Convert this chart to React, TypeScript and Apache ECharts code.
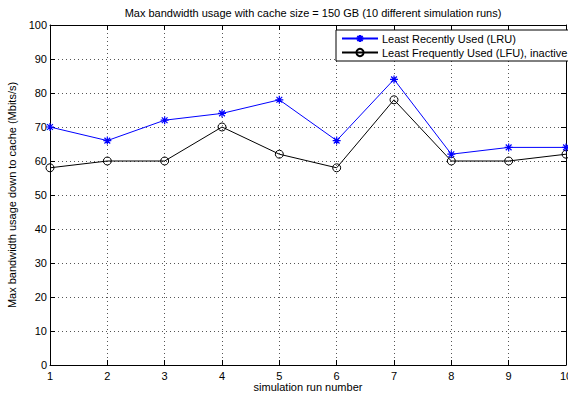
import React, { useEffect, useRef } from "react";
import * as echarts from "echarts";

// Simulation runs and peak bandwidth (Mbit/s) for each cache policy
const runs = [1, 2, 3, 4, 5, 6, 7, 8, 9, 10];
const lruValues = [70, 66, 72, 74, 78, 66, 84, 62, 64, 64];
const lfuValues = [58, 60, 60, 70, 62, 58, 78, 60, 60, 62];

const seriesNames = ["Least Recently Used (LRU)", "Least Frequently Used (LFU), inactive"];
const titleText = "Max bandwidth usage with cache size = 150 GB (10 different simulation runs)";
const xName = "simulation run number";
const yName = "Max bandwidth usage down to cache (Mbits/s)";

const FONT = "'Liberation Sans', Arial, sans-serif";
const asterisk =
  "path://M0,-5L0,5M-5,0L5,0M-3.6,-3.6L3.6,3.6M-3.6,3.6L3.6,-3.6";

export default function App() {
  const ref = useRef<HTMLDivElement>(null);

  useEffect(() => {
    if (!ref.current) return;
    const chart = echarts.init(ref.current, undefined, { renderer: "svg" });
    const gridLine = { show: true, lineStyle: { color: "#555", type: [1, 3] as any, width: 1 } };
    const frame = { show: true, onZero: false, lineStyle: { color: "#000", width: 1 } };
    const tick = { show: true, inside: true, length: 5, lineStyle: { color: "#000" } };
    chart.setOption({
      animation: false,
      backgroundColor: "#fff",
      textStyle: { fontFamily: FONT },
      title: {
        text: titleText,
        left: 308,
        textAlign: "center",
        top: 2,
        textStyle: { fontFamily: FONT, fontSize: 11, fontWeight: "normal", color: "#000" },
      },
      grid: {
        left: 50,
        right: 2,
        top: 25,
        bottom: 29,
        containLabel: false,
        outerBoundsMode: "none",
      },
      legend: {
        orient: "vertical",
        left: 336,
        top: 30,
        padding: [3, 2, 3, 5],
        itemGap: 3,
        itemWidth: 36,
        itemHeight: 9,
        borderColor: "#000",
        borderWidth: 1,
        backgroundColor: "#fff",
        textStyle: { fontFamily: FONT, fontSize: 11, color: "#000", padding: [0, 0, 0, -1] },
        data: seriesNames,
      },
      xAxis: [
        {
          type: "value",
          min: 1,
          max: 10,
          interval: 1,
          name: xName,
          nameLocation: "middle",
          nameGap: 16,
          nameMoveOverlap: false,
          nameTextStyle: { fontFamily: FONT, fontSize: 11, lineHeight: 11, color: "#000" },
          axisLine: frame,
          axisTick: tick,
          axisLabel: { fontFamily: FONT, fontSize: 11, lineHeight: 11, color: "#000", margin: 5 },
          splitLine: gridLine,
        },
        {
          type: "value",
          position: "top",
          min: 1,
          max: 10,
          interval: 1,
          axisLine: frame,
          axisTick: tick,
          axisLabel: { show: false },
          splitLine: { show: false },
        },
      ],
      yAxis: [
        {
          type: "value",
          min: 0,
          max: 100,
          interval: 10,
          name: yName,
          nameLocation: "middle",
          nameGap: 28,
          nameTextStyle: { fontFamily: FONT, fontSize: 11, color: "#000" },
          axisLine: frame,
          axisTick: tick,
          axisLabel: { fontFamily: FONT, fontSize: 11, color: "#000", margin: 3 },
          splitLine: gridLine,
        },
        {
          type: "value",
          position: "right",
          min: 0,
          max: 100,
          interval: 10,
          axisLine: frame,
          axisTick: tick,
          axisLabel: { show: false },
          splitLine: { show: false },
        },
      ],
      series: [
        {
          name: seriesNames[0],
          type: "line",
          data: runs.map((r, i) => [r, lruValues[i]]),
          symbol: asterisk,
          symbolSize: 8,
          lineStyle: { color: "#0000ff", width: 1 },
          itemStyle: { color: "transparent", borderColor: "#0000ff", borderWidth: 1.2 },
          z: 3,
        },
        {
          name: seriesNames[1],
          type: "line",
          data: runs.map((r, i) => [r, lfuValues[i]]),
          symbol: "circle",
          symbolSize: 8,
          lineStyle: { color: "#000", width: 1 },
          itemStyle: { color: "transparent", borderColor: "#000", borderWidth: 1 },
          z: 2,
        },
      ],
    });
    return () => chart.dispose();
  }, []);

  return (
    <div
      ref={ref}
      style={{ position: "fixed", left: 0, top: 0, width: 568, height: 394 }}
    />
  );
}
